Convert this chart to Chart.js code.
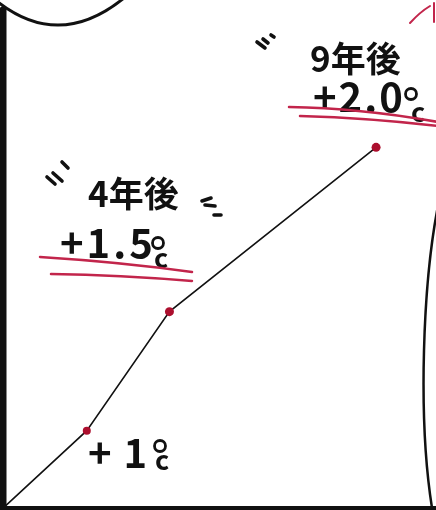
<!DOCTYPE html>
<html>
<head>
<meta charset="utf-8">
<script src="https://cdn.jsdelivr.net/npm/chart.js@4/dist/chart.umd.min.js"></script>
<style>
  html, body { margin: 0; padding: 0; background: #fff; }
  #wrap { width: 436px; height: 510px; }
</style>
</head>
<body>
<div id="wrap"><canvas id="riseChart" width="436" height="510"></canvas></div>
<script>
// years after now, and temperature rise (°C)
const years = [0, 2, 4, 9];
const rise = [0.73, 1.0, 1.42, 2.0];
const yearLabels = ["", "", "4年後", "9年後"];
const riseLabels = ["", "+1", "+1.5", "+2.0"];

const INK = "#111";
const RED = "#c2254b";
const JP = "'Noto Sans CJK JP', 'Noto Sans', sans-serif";

function stroke(ctx, width, color, fn) {
  ctx.save();
  ctx.lineWidth = width;
  ctx.strokeStyle = color;
  ctx.lineCap = "round";
  ctx.beginPath();
  fn();
  ctx.stroke();
  ctx.restore();
}

function text(ctx, str, x, y, size, spacing) {
  ctx.save();
  ctx.font = `700 ${size}px ${JP}`;
  ctx.fillStyle = INK;
  ctx.textBaseline = "alphabetic";
  ctx.letterSpacing = (spacing || 0) + "px";
  ctx.fillText(str, x, y);
  ctx.restore();
}

// "+2.0" followed by a hand-style ° over a small c
function tempLabel(ctx, str, x, y, size, spacing, deg, c) {
  text(ctx, str, x, y, size, spacing);
  stroke(ctx, 2.8, INK, () => {
    ctx.arc(deg[0], deg[1], 5.5, 0, Math.PI * 2);
  });
  text(ctx, "c", c[0], c[1], 27, 0);
}

const sketch = {
  id: "sketch",
  afterDraw(chart) {
    const ctx = chart.ctx;

    // panel frame
    stroke(ctx, 7, INK, () => { ctx.moveTo(3, 10); ctx.lineTo(3, 512); });
    stroke(ctx, 4, INK, () => { ctx.moveTo(0, 508); ctx.lineTo(436, 508); });
    stroke(ctx, 3, INK, () => { ctx.moveTo(-2, 2); ctx.quadraticCurveTo(60, 50, 124, -2); });
    stroke(ctx, 2.5, INK, () => {
      ctx.moveTo(440, 196);
      ctx.bezierCurveTo(422, 280, 418, 420, 432, 508);
    });

    // red scribble top right
    stroke(ctx, 2, RED, () => {
      ctx.moveTo(410, 23); ctx.quadraticCurveTo(420, 12, 430, 6);
      ctx.moveTo(434, 3); ctx.lineTo(434, 22);
    });

    // emphasis marks
    stroke(ctx, 3.6, INK, () => {
      ctx.moveTo(257, 42); ctx.lineTo(265, 48);
      ctx.moveTo(263, 39); ctx.lineTo(268, 43);
      ctx.moveTo(271, 35); ctx.lineTo(274, 37);
      ctx.moveTo(62, 162); ctx.lineTo(68, 168);
      ctx.moveTo(53, 173); ctx.lineTo(62, 181);
      ctx.moveTo(47, 177); ctx.lineTo(55, 184);
      ctx.moveTo(202, 201); ctx.lineTo(211, 198);
      ctx.moveTo(205, 205); ctx.lineTo(215, 206);
      ctx.moveTo(214, 215); ctx.lineTo(221, 215);
    });

    // labels
    text(ctx, yearLabels[3], 310, 72, 35, 0);
    tempLabel(ctx, riseLabels[3], 313, 112, 40, 2, [411, 94], [411, 122]);
    text(ctx, yearLabels[2], 88, 207, 35, 0);
    tempLabel(ctx, riseLabels[2], 60, 258, 40, 3, [158, 243], [154, 268]);
    tempLabel(ctx, riseLabels[1], 88, 468, 40, 12, [160, 446], [155, 470]);

    // red double underlines
    stroke(ctx, 2.5, RED, () => {
      ctx.moveTo(289, 107); ctx.quadraticCurveTo(360, 108, 438, 122);
      ctx.moveTo(300, 116); ctx.quadraticCurveTo(370, 118, 438, 126);
      ctx.moveTo(40, 257); ctx.quadraticCurveTo(120, 262, 192, 272);
      ctx.moveTo(51, 274); ctx.quadraticCurveTo(120, 275, 192, 281);
    });
  },
};

new Chart(document.getElementById("riseChart"), {
  type: "line",
  data: {
    datasets: [
      {
        data: years.map((x, i) => ({ x, y: rise[i] })),
        borderColor: INK,
        borderWidth: 1.6,
        tension: 0,
        pointRadius: [0, 4, 4.5, 4.5],
        pointBackgroundColor: "#ac0f2e",
        pointBorderWidth: 0,
        clip: false,
      },
    ],
  },
  options: {
    responsive: false,
    animation: false,
    layout: { padding: 0, autoPadding: false },
    scales: {
      x: { type: "linear", min: -0.1, max: 10.45, display: false },
      y: { type: "linear", min: 0.72, max: 2.52, display: false },
    },
    plugins: {
      legend: { display: false },
      tooltip: { enabled: false },
    },
  },
  plugins: [sketch],
});
</script>
</body>
</html>
